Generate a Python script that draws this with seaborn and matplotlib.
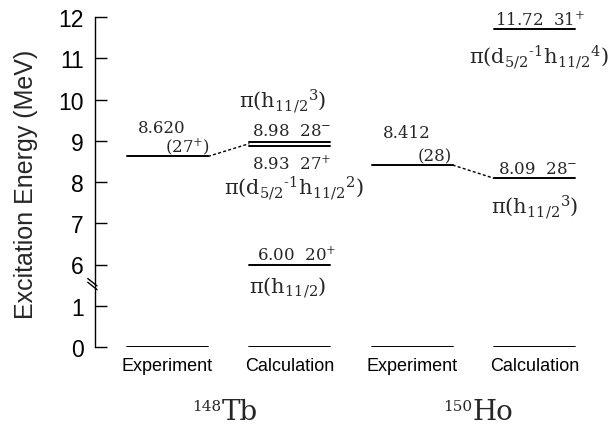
import matplotlib
matplotlib.use("Agg")
import matplotlib.pyplot as plt
import matplotlib.transforms as mtransforms
import numpy as np
import pandas as pd
import seaborn as sns

# ---------------- data ----------------
columns = ["Experiment", "Calculation", "Experiment", "Calculation"]
nuclei_mass = ["148", "150"]
nuclei_symbol = ["Tb", "Ho"]
ground_energy = [0.0, 0.0, 0.0, 0.0]
level_column = [0, 1, 1, 1, 2, 3, 3]
level_energy = [8.620, 8.98, 8.93, 6.00, 8.412, 8.09, 11.72]
level_energy_text = ["8.620", "8.98", "8.93", "6.00", "8.412", "8.09", "11.72"]
level_spin = ["(27$^{+}$)", "28$^{-}$", "27$^{+}$", "20$^{+}$", "(28)", "28$^{-}$", "31$^{+}$"]
level_config = ["",
                r"π(h$_{11/2}{}^{3}$)",
                r"π(d$_{5/2}{}^{‐1}$h$_{11/2}{}^{2}$)",
                r"π(h$_{11/2}$)",
                "",
                r"π(h$_{11/2}{}^{3}$)",
                r"π(d$_{5/2}{}^{‐1}$h$_{11/2}{}^{4}$)"]
links = [(0, 2), (4, 5)]  # experiment level -> calculated level
ytick_values = [0, 1, 6, 7, 8, 9, 10, 11, 12]


def ybreak(e):
    e = np.asarray(e, dtype=float)
    return np.where(e < 3, e, e - 4.0)


# ---------------- layout (pixels relative to level line) ----------------
HALF = 0.331
layout = {
    0: dict(e=(-29.5, 24, "left"), s=(42.5, 5, "right"), shift=0),
    1: dict(es=(-38, 7), c=(-7, 34), shift=0),
    2: dict(es=(-38, -25), c=(4, -51), shift=-2.5),
    3: dict(es=(-33, 5), c=(-2, -28), shift=0),
    4: dict(e=(-29.5, 28, "left"), s=(39.5, 5, "right"), shift=0),
    5: dict(es=(-36.5, 5), c=(0, -35), shift=0),
    6: dict(es=(-39.5, 4), c=(4.5, -35), shift=0),
}

sns.set_theme(style="ticks")
plt.rcParams["font.family"] = ["Liberation Sans", "DejaVu Sans"]
plt.rcParams["mathtext.fontset"] = "dejavuserif"

fig = plt.figure(figsize=(6.12, 4.27), dpi=100)
ax = fig.add_axes([95 / 612, 79 / 427, 517 / 612, 330 / 427])

SERIF = ["DejaVu Serif"]

# ground levels
rows = []
for i, e in enumerate(ground_energy):
    for xx in (i - HALF, i + HALF):
        rows.append(dict(uid=f"g{i}", x=xx, y=float(ybreak(e))))
gdf = pd.DataFrame(rows)
sns.lineplot(data=gdf, x="x", y="y", units="uid", estimator=None, sort=False,
             color="black", lw=1.4, ax=ax, legend=False)

# excited levels
for k, (c, e) in enumerate(zip(level_column, level_energy)):
    df = pd.DataFrame(dict(x=[c - HALF, c + HALF], y=[float(ybreak(e))] * 2))
    shift = layout[k]["shift"]
    tr = ax.transData + mtransforms.ScaledTranslation(0, shift / 100, fig.dpi_scale_trans)
    sns.lineplot(data=df, x="x", y="y", color="black", lw=1.4, ax=ax,
                 transform=tr, legend=False)

# dashed links
for a, b in links:
    df = pd.DataFrame(dict(x=[level_column[a] + HALF, level_column[b] - HALF],
                           y=[float(ybreak(level_energy[a])), float(ybreak(level_energy[b]))]))
    sns.lineplot(data=df, x="x", y="y", color="black", lw=1.0, ax=ax,
                 linestyle=(0, (2.2, 1.6)), legend=False)

# labels
for k, (c, e) in enumerate(zip(level_column, level_energy)):
    y = float(ybreak(e))
    L = layout[k]
    if "e" in L:
        dx, dy, ha = L["e"]
        ax.annotate(level_energy_text[k], xy=(c, y), xytext=(dx, dy), textcoords="offset pixels",
                    ha=ha, va="baseline", fontsize=12, family=SERIF, annotation_clip=False)
        dx, dy, ha = L["s"]
        ax.annotate(level_spin[k], xy=(c, y), xytext=(dx, dy), textcoords="offset pixels",
                    ha=ha, va="baseline", fontsize=12, family=SERIF, annotation_clip=False)
    else:
        dx, dy = L["es"]
        ax.annotate(level_energy_text[k] + "  " + level_spin[k], xy=(c, y), xytext=(dx, dy),
                    textcoords="offset pixels", ha="left", va="baseline", fontsize=12,
                    family=SERIF, annotation_clip=False)
        dx, dy = L["c"]
        ax.annotate(level_config[k], xy=(c, y), xytext=(dx, dy), textcoords="offset pixels",
                    ha="center", va="baseline", fontsize=15, family=SERIF, annotation_clip=False)

# nucleus names
for j, (m, s) in enumerate(zip(nuclei_mass, nuclei_symbol)):
    xc = 2 * j + 0.5
    dx = -7 if j == 0 else -1
    ax.annotate(s, xy=(xc, 0), xytext=(dx, -72), textcoords="offset pixels", ha="left",
                va="baseline", fontsize=20, family=SERIF, annotation_clip=False)
    ax.annotate(m, xy=(xc, 0), xytext=(dx, -63), textcoords="offset pixels", ha="right",
                va="baseline", fontsize=11, family=SERIF, annotation_clip=False)

# axes styling
ax.set_xlim(-0.593, 3.634)
ax.set_ylim(0, 8)
ax.set_yticks(ybreak(ytick_values))
ax.set_yticklabels([str(v) for v in ytick_values])
ax.set_xticks(range(len(columns)))
ax.set_xticklabels(columns)
ax.tick_params(axis="y", direction="in", length=8.6, width=1.0, labelsize=16.5, pad=8,
               colors="black")
ax.tick_params(axis="x", length=0, labelsize=13, pad=7, colors="black")
ax.set_xlabel("")
ax.set_ylabel("")
sns.despine(ax=ax, top=True, right=True, bottom=True)
ax.spines["left"].set_linewidth(1.0)
ax.spines["left"].set_color("black")
ax.spines["left"].set_bounds(0, 8)

# axis break marks
btr = mtransforms.blended_transform_factory(ax.transAxes, ax.transData)
for off in (0.0, -0.09):
    ax.plot([-0.014, 0.004], [1.66 + off, 1.48 + off], color="black", lw=1.0,
            transform=btr, clip_on=False)

fig.text(26 / 612, 1 - 184.5 / 427, "Excitation Energy (MeV)", rotation=90,
         ha="center", va="center", fontsize=18, family=["Liberation Sans"])

fig.savefig("out.png", dpi=100, facecolor="white")
